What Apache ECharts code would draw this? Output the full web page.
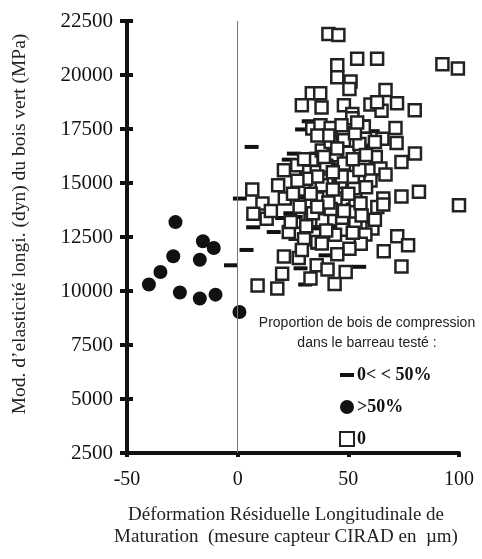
<!DOCTYPE html>
<html>
<head>
<meta charset="utf-8">
<script src="https://cdn.jsdelivr.net/npm/echarts@6/dist/echarts.min.js"></script>
<style>
  body { margin: 0; background: #fff; }
  #chart { width: 482px; height: 559px; }
</style>
</head>
<body>
<div id="chart"></div>
<script>
// bois sans compression (carrés vides)
const noCompression = [
  [41, 21900], [45.5, 21850], [54, 20750], [63, 20750], [45, 20450], [92.5, 20500], [99.5, 20300],
  [45, 19900], [51, 19700], [50.5, 19350], [66.8, 19300], [33.5, 19150], [37.3, 19150],
  [29, 18600], [37.9, 18500], [48, 18600], [60, 18630], [65, 18350], [72, 18690], [80, 18370],
  [63, 18740], [51.8, 18200], [51.8, 18000], [33.7, 17520], [37.4, 17670], [42, 17550],
  [46.9, 17670], [57, 17600], [71.3, 17550], [48, 16980], [57.5, 17050], [65.4, 17050],
  [71.8, 16850], [44.2, 16280], [33.4, 16080], [62.4, 16200], [80.1, 16360], [57, 15970],
  [74, 15970], [26.9, 15820], [20.9, 15590], [35.7, 15510], [46, 15590], [60, 15590],
  [64.5, 15670], [66.8, 15390], [52, 15280], [40.2, 15120], [60, 15120], [46.4, 15050],
  [18.3, 14900], [6.6, 14700], [52.5, 14720], [81.9, 14600], [74, 14380], [65.8, 14280],
  [21.3, 14280], [35.9, 14280], [44.2, 14280], [53.2, 14200], [63.1, 13890], [65.8, 14000],
  [55.5, 14060], [100, 13970], [11.2, 14050], [7.1, 13580], [13.1, 13350], [32.9, 13270],
  [38.2, 13270], [47.2, 13270], [53.2, 13120], [60.9, 12890], [47.2, 12840], [57.7, 12620],
  [26.2, 12650], [36, 12270], [23.1, 12730], [72.1, 12530], [55.6, 12190], [50.5, 11960],
  [77, 12120], [66, 11840], [20.9, 11600], [27.6, 11530], [35.7, 11190], [74, 11140],
  [40.6, 10990], [20.1, 10800], [48.8, 10880], [32.9, 10580], [43.8, 10320], [9, 10260],
  [17.9, 10120], [30, 16100], [38, 16500], [42, 16900], [50, 16400], [55, 16800], [58, 16300],
  [40, 15800], [48, 15900], [55, 15600], [30, 14700], [38, 14900], [25, 14500], [28, 13900],
  [34, 13600], [42, 13800], [50, 14500], [56, 13500], [44, 12600], [30, 12400], [40, 12800],
  [24, 13200], [15, 13700], [41, 17200], [53, 17300], [36, 15300], [43, 14700], [31, 15200],
  [45, 16600], [52, 16100], [39, 16200], [47, 15300], [33, 14500], [41, 14100], [48, 13700],
  [27, 15100], [36, 13900], [43, 15500], [58, 14800], [31, 13000], [38, 12200], [45, 11700],
  [52, 12700], [62, 13300], [29, 11900], [62, 16900], [36, 17200], [54, 17800]
];
// 0 < bois de compression < 50 % (tirets)
const partCompression = [
  [6.3, 16670], [25.4, 16360], [35.4, 16360], [23.1, 16080], [32.1, 17860], [29.1, 17480],
  [61, 17400], [57, 17860], [1, 14280], [26.2, 13430], [20.1, 13380], [7, 12950], [16.3, 12730],
  [4, 11900], [-3, 11190], [39.7, 11650], [28.4, 11050], [30.5, 10300], [54.9, 11120],
  [23.8, 13600], [29, 14330], [48, 15000], [44, 13000], [36, 12000], [52, 14000], [41, 16000],
  [60, 16700], [34, 12900]
];
// bois de compression > 50 % (ronds noirs)
const fullCompression = [
  [-28.1, 13190], [-15.7, 12300], [-10.8, 11990], [-29.1, 11610], [-17.1, 11450],
  [-34.9, 10880], [-40.1, 10300], [-26.1, 9930], [-17.1, 9650], [-10, 9830], [0.8, 9030]
];
const xTicks = { min: -50, max: 100, interval: 50 };
const yTicks = { min: 2500, max: 22500, interval: 2500 };

const serif = 'Liberation Serif';
const chart = echarts.init(document.getElementById('chart'));

chart.setOption({
  animation: false,
  grid: { left: 127, right: 23, top: 21, bottom: 106 },
  title: {
    text: 'Proportion de bois de compression\ndans le barreau testé :',
    left: 362, top: 308, textAlign: 'center',
    textStyle: { fontFamily: 'Liberation Sans', fontSize: 14, fontWeight: 'normal', lineHeight: 20, color: '#222' }
  },
  legend: {
    orient: 'vertical', left: 334, top: 361,
    itemWidth: 14, itemHeight: 14, itemGap: 14, selectedMode: false,
    textStyle: { fontFamily: serif, fontWeight: 'bold', fontSize: 18, color: '#111', padding: [0, 0, 0, -2] },
    data: [
      { name: '0< < 50%', icon: 'path://M0,0M0,14M0,5H14V9H0Z' },
      { name: '>50%', icon: 'circle' },
      { name: '0', icon: 'rect' }
    ]
  },
  xAxis: {
    type: 'value', min: xTicks.min, max: xTicks.max, interval: xTicks.interval,
    name: 'Déformation Résiduelle Longitudinale de\nMaturation  (mesure capteur CIRAD en  µm)',
    nameLocation: 'middle', nameGap: 51,
    nameTextStyle: { fontFamily: serif, fontSize: 19, color: '#222', lineHeight: 22, padding: [0, 14, 0, 0] },
    axisLine: { onZero: false, lineStyle: { color: '#111', width: 4 } },
    axisTick: { length: 4, lineStyle: { color: '#111', width: 4 } },
    axisLabel: { fontFamily: serif, fontSize: 20, color: '#111', margin: 17 },
    splitLine: { show: false }
  },
  yAxis: [{
    type: 'value', min: yTicks.min, max: yTicks.max, interval: yTicks.interval,
    name: 'Mod. d’elasticité longi. (dyn) du bois vert (MPa)',
    nameLocation: 'middle', nameGap: 97,
    nameTextStyle: { fontFamily: serif, fontSize: 19.5, color: '#222', padding: [0, 0, 0, 26] },
    axisLine: { onZero: false, lineStyle: { color: '#111', width: 4 } },
    axisTick: { length: 7, lineStyle: { color: '#111', width: 4 } },
    axisLabel: { fontFamily: serif, fontSize: 21, color: '#111', margin: 14, formatter: v => String(v) },
    splitLine: { show: false }
  }, {
    type: 'value', position: 'left', min: yTicks.min, max: yTicks.max, interval: yTicks.interval,
    axisLine: { show: false, onZero: false },
    axisTick: { show: true, inside: true, length: 6, lineStyle: { color: '#111', width: 4 } },
    axisLabel: { show: false },
    splitLine: { show: false }
  }],
  series: [
    {
      name: '0< < 50%', type: 'scatter', data: partCompression,
      symbol: 'rect', symbolSize: [14, 4],
      itemStyle: { color: '#111', opacity: 1 },
      markLine: {
        silent: true, symbol: 'none', label: { show: false },
        lineStyle: { color: '#777', width: 1, type: 'solid' },
        data: [{ xAxis: 0 }]
      }
    },
    {
      name: '0', type: 'scatter', data: noCompression,
      symbol: 'rect', symbolSize: 12,
      itemStyle: { color: '#fff', borderColor: '#222', borderWidth: 2.5, opacity: 1 }
    },
    {
      name: '>50%', type: 'scatter', data: fullCompression,
      symbol: 'circle', symbolSize: 14,
      itemStyle: { color: '#111', opacity: 1 }
    }
  ]
});
</script>
</body>
</html>
